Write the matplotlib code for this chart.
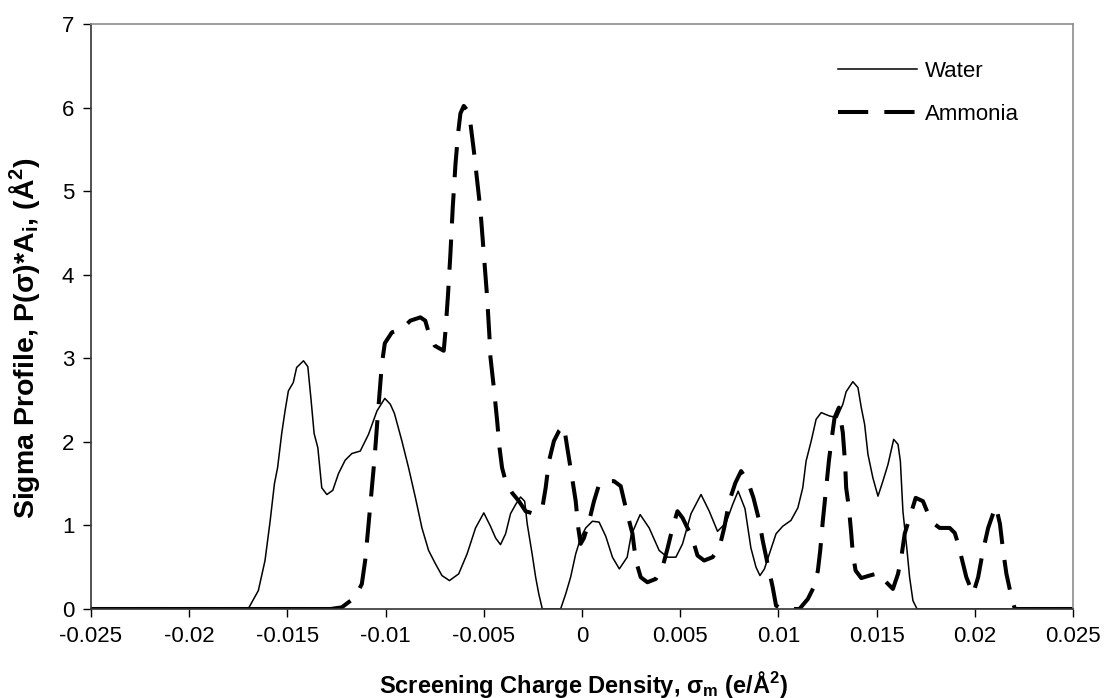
import matplotlib
matplotlib.use("Agg")
import matplotlib.pyplot as plt

plt.rcParams['font.family'] = ['Liberation Sans', 'DejaVu Sans']
plt.rcParams['mathtext.fontset'] = 'custom'
plt.rcParams['mathtext.rm'] = 'Liberation Sans'
plt.rcParams['mathtext.bf'] = 'Liberation Sans:bold'
plt.rcParams['mathtext.it'] = 'Liberation Sans:italic'

water_x = [-0.025, -0.0170, -0.01648, -0.01614, -0.01588, -0.01566, -0.0155, -0.01529, -0.01512,
           -0.01495, -0.0147, -0.01453, -0.01418, -0.01396, -0.01379, -0.01364, -0.01345, -0.01325,
           -0.01299, -0.01269, -0.0124, -0.01206, -0.01172, -0.01129, -0.01087, -0.01044, -0.01004,
           -0.00976, -0.00955, -0.00917, -0.00883, -0.00848, -0.00815, -0.00781, -0.00746, -0.00713,
           -0.00675, -0.00628, -0.00585, -0.00542, -0.005, -0.00466, -0.0044, -0.00415, -0.00389,
           -0.00364, -0.00338, -0.00313, -0.00292, -0.00279, -0.00254, -0.00236, -0.0022, -0.00202,
           -0.00109, -0.00083, -0.00058, -0.00032, -0.00007, 0.00019, 0.00053, 0.00087, 0.00121,
           0.00155, 0.0019, 0.0023, 0.0025, 0.00296, 0.00342, 0.00393, 0.00435, 0.00478, 0.00512,
           0.00555, 0.00606, 0.00648, 0.0069, 0.00733, 0.00767, 0.00795, 0.0083, 0.0086, 0.00886,
           0.00906, 0.00929, 0.00954, 0.00988, 0.01022, 0.01064, 0.01099, 0.01124, 0.01141, 0.01167,
           0.01192, 0.01218, 0.0126, 0.01298, 0.01328, 0.01345, 0.01379, 0.01405, 0.01422, 0.01439,
           0.01456, 0.01481, 0.01507, 0.01532, 0.01558, 0.01587, 0.01609, 0.01621, 0.01634, 0.01655,
           0.01668, 0.01685, 0.01706, 0.025]
water_y = [0, 0, 0.22, 0.58, 1.05, 1.50, 1.69, 2.10, 2.37,
           2.61, 2.71, 2.89, 2.97, 2.90, 2.49, 2.10, 1.93, 1.45,
           1.37, 1.42, 1.62, 1.78, 1.86, 1.89, 2.09, 2.37, 2.52,
           2.45, 2.34, 2.01, 1.69, 1.33, 0.97, 0.70, 0.54, 0.40,
           0.34, 0.42, 0.66, 0.97, 1.15, 0.99, 0.85, 0.77, 0.90,
           1.14, 1.25, 1.34, 1.29, 1.02, 0.66, 0.38, 0.18, 0,
           0, 0.18, 0.38, 0.66, 0.85, 0.97, 1.05, 1.04, 0.87,
           0.62, 0.48, 0.62, 0.88, 1.13, 0.97, 0.70, 0.62, 0.62, 0.78,
           1.14, 1.37, 1.17, 0.93, 1.03, 1.25, 1.41, 1.20, 0.73, 0.50,
           0.40, 0.48, 0.66, 0.90, 0.99, 1.06, 1.21, 1.45, 1.77, 2.01,
           2.27, 2.35, 2.31, 2.29, 2.45, 2.60, 2.72, 2.65, 2.41, 2.21,
           1.85, 1.57, 1.35, 1.53, 1.73, 2.03, 1.97, 1.77, 1.17, 0.70,
           0.38, 0.10, 0, 0]

ammonia_x = [-0.025, -0.0128, -0.01223, -0.01155, -0.01121, -0.01104, -0.0109, -0.01073, -0.01056,
             -0.01042, -0.01031, -0.01019, -0.01004, -0.00968, -0.00917, -0.00874, -0.00823, -0.00798,
             -0.00781, -0.0075, -0.00704, -0.00695, -0.00682, -0.0067, -0.00658, -0.00644, -0.00631,
             -0.00619, -0.00602, -0.00585, -0.00568, -0.00551, -0.00534, -0.00517, -0.005, -0.00483,
             -0.00471, -0.00466, -0.00449, -0.00432, -0.0042, -0.00407, -0.00389, -0.00356, -0.00321,
             -0.00287, -0.00245, -0.00202, -0.00185, -0.00168, -0.00143, -0.00117, -0.00092, -0.00075,
             -0.00053, -0.00032, -0.00019, -0.00007, 0.0001, 0.00036, 0.00061, 0.00087, 0.00121,
             0.00163, 0.00197, 0.00223, 0.00257, 0.00274, 0.00299, 0.00333, 0.00376, 0.0041, 0.00435,
             0.00461, 0.00486, 0.00512, 0.00537, 0.00559, 0.00588, 0.00622, 0.00665, 0.00699, 0.00724,
             0.0075, 0.00781, 0.0081, 0.00844, 0.00873, 0.00903, 0.0092, 0.00945, 0.00971, 0.00988,
             0.0102, 0.01107, 0.0115, 0.01184, 0.01201, 0.01213, 0.01226, 0.01243, 0.01257, 0.01272,
             0.01286, 0.01308, 0.01328, 0.0134, 0.01345, 0.01359, 0.01371, 0.01379, 0.01393, 0.01422,
             0.01464, 0.01512, 0.01541, 0.01583, 0.01609, 0.01626, 0.01643, 0.01668, 0.01699, 0.01736,
             0.01762, 0.01787, 0.01821, 0.01872, 0.01898, 0.01915, 0.01932, 0.01957, 0.01991, 0.02017,
             0.02042, 0.02068, 0.02093, 0.02107, 0.02128, 0.02144, 0.02161, 0.02187, 0.02204, 0.0229,
             0.025]
ammonia_y = [0, 0, 0.02, 0.14, 0.30, 0.58, 0.93, 1.37, 1.81,
             2.25, 2.57, 2.93, 3.18, 3.31, 3.35, 3.45, 3.49, 3.45,
             3.31, 3.15, 3.09, 3.33, 3.77, 4.25, 4.81, 5.33, 5.69,
             5.93, 6.02, 5.97, 5.81, 5.49, 5.13, 4.77, 4.25, 3.73,
             3.25, 3.01, 2.65, 2.25, 1.93, 1.69, 1.53, 1.39, 1.29,
             1.17, 1.14, 1.21, 1.45, 1.77, 2.01, 2.13, 2.19, 1.93,
             1.61, 1.29, 0.97, 0.78, 0.85, 1.05, 1.29, 1.49, 1.53,
             1.53, 1.47, 1.21, 0.90, 0.58, 0.38, 0.32, 0.36, 0.50, 0.72,
             0.97, 1.17, 1.09, 0.97, 0.87, 0.64, 0.58, 0.62, 0.73, 0.97,
             1.29, 1.51, 1.65, 1.53, 1.33, 1.05, 0.82, 0.54, 0.26, 0.04,
             0, 0, 0.12, 0.28, 0.46, 0.70, 1.05, 1.45, 1.77, 2.05,
             2.29, 2.41, 2.11, 1.73, 1.45, 1.21, 0.90, 0.66, 0.46, 0.37,
             0.40, 0.43, 0.34, 0.24, 0.42, 0.62, 0.90, 1.09, 1.33, 1.29,
             1.14, 1.03, 0.97, 0.97, 0.91, 0.78, 0.62, 0.38, 0.18, 0.38,
             0.70, 0.97, 1.14, 1.23, 1.02, 0.70, 0.42, 0.14, 0, 0,
             0]

x_ticks = [-0.025, -0.02, -0.015, -0.01, -0.005, 0, 0.005, 0.01, 0.015, 0.02, 0.025]
x_tick_labels = ['-0.025', '-0.02', '-0.015', '-0.01', '-0.005', '0', '0.005', '0.01', '0.015', '0.02', '0.025']
y_ticks = [0, 1, 2, 3, 4, 5, 6, 7]

W, H = 1104, 698
fig = plt.figure(figsize=(W / 100, H / 100), dpi=100)
ax = fig.add_axes([91 / W, 1 - 609 / H, (1073 - 91) / W, (609 - 24) / H])

AMM_LW = 2.9
ax.plot(water_x, water_y, color='black', lw=1.1, label='Water', solid_joinstyle='round')
ax.plot(ammonia_x, ammonia_y, color='black', lw=AMM_LW, linestyle=(0, (7.5, 4.0)),
        dash_capstyle='butt', label='Ammonia')
# flat zero stretches at both ends render as continuous thick runs in the original
ax.plot(ammonia_x[:2], ammonia_y[:2], color='black', lw=AMM_LW, solid_capstyle='butt')
ax.plot(ammonia_x[-2:], ammonia_y[-2:], color='black', lw=AMM_LW, solid_capstyle='butt')

ax.set_xlim(-0.025, 0.025)
ax.set_ylim(0, 7)
ax.set_xticks(x_ticks)
ax.set_xticklabels(x_tick_labels)
ax.set_yticks(y_ticks)
ax.tick_params(axis='both', labelsize=16, direction='out', length=6, width=1, pad=6, colors='black')

for s in ['top', 'right']:
    ax.spines[s].set_color('#8c8c8c')
    ax.spines[s].set_linewidth(1.2)
for s in ['left', 'bottom']:
    ax.spines[s].set_color('#333333')
    ax.spines[s].set_linewidth(1.2)

fig.text(25 / W, 1 - 338 / H, r'Sigma Profile, P(σ)*A$_\mathbf{i}$, (Å$^\mathbf{2}$)',
         rotation=90, ha='center', va='center', fontsize=20.5, fontweight='bold')
fig.text(583 / W, 1 - 684 / H, r'Screening Charge Density, σ$_\mathbf{m}$ (e/Å$^\mathbf{2}$)',
         ha='center', va='center', fontsize=17, fontweight='bold')

leg = ax.legend(loc='upper left', bbox_to_anchor=(838 / W, 1 - 61 / H), bbox_transform=fig.transFigure,
                frameon=False, fontsize=16, handlelength=3.55, handletextpad=0.35,
                labelspacing=1.0, borderpad=0, borderaxespad=0)

fig.savefig('out.png', dpi=100)
